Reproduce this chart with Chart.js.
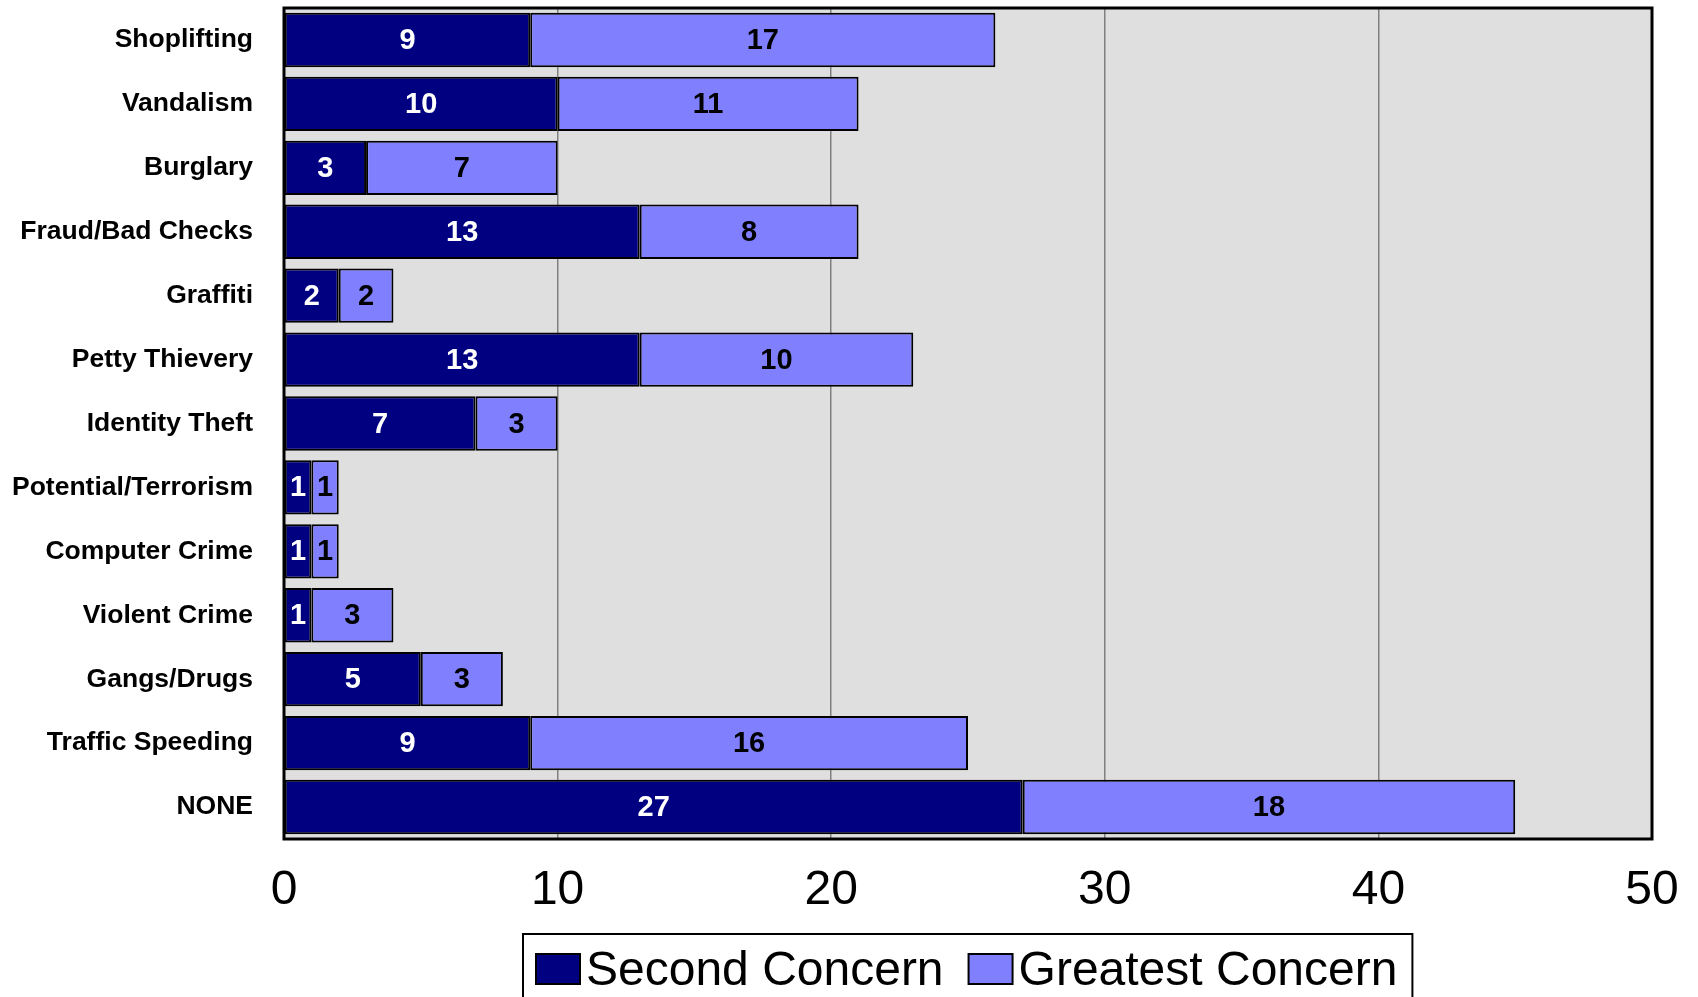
<!DOCTYPE html>
<html>
<head>
<meta charset="utf-8">
<title>Crime concerns</title>
<script src="https://cdn.jsdelivr.net/npm/chart.js@4.4.1/dist/chart.umd.min.js"></script>
<style>
  html, body { margin: 0; padding: 0; background: #ffffff; }
  #wrap { width: 1698px; height: 997px; position: relative; }
</style>
</head>
<body>
<div id="wrap"><canvas id="chartConcern"></canvas></div>
<script>
// categories, top to bottom
const categories = [
    'Shoplifting', 'Vandalism', 'Burglary', 'Fraud/Bad Checks', 'Graffiti',
    'Petty Thievery', 'Identity Theft', 'Potential/Terrorism', 'Computer Crime',
    'Violent Crime', 'Gangs/Drugs', 'Traffic Speeding', 'NONE'
];
const secondConcern   = [9, 10, 3, 13, 2, 13, 7, 1, 1, 1, 5, 9, 27];
const greatestConcern = [17, 11, 7, 8, 2, 10, 3, 1, 1, 3, 3, 16, 18];
const xTicks = [0, 10, 20, 30, 40, 50];

const FONT = '"Liberation Sans", Arial, sans-serif';

// grey plot background + black frame
const plotFrame = {
    id: 'plotFrame',
    beforeDraw(chart) {
        const { ctx, chartArea: a } = chart;
        ctx.save();
        ctx.fillStyle = '#dfdfdf';
        ctx.fillRect(a.left, a.top, a.right - a.left, a.bottom - a.top);
        ctx.restore();
    },
    afterDraw(chart) {
        const { ctx, chartArea: a } = chart;
        ctx.save();
        ctx.strokeStyle = '#000';
        ctx.lineWidth = 3;
        ctx.strokeRect(a.left, a.top, a.right - a.left, a.bottom - a.top);
        ctx.restore();
    }
};

// legend drawn by hand: boxed, tight swatch/text spacing
const boxedLegend = {
    id: 'boxedLegend',
    afterDraw(chart) {
        const { ctx, chartArea: a } = chart;
        const sw = 44, sh = 30, gapText = 6, gapItem = 25, padL = 13, padR = 15;
        ctx.save();
        ctx.font = '48px ' + FONT;
        const items = chart.data.datasets.map(ds => ({
            text: ds.label, color: ds.backgroundColor, w: ctx.measureText(ds.label).width
        }));
        let total = padL + padR;
        items.forEach((it, i) => { total += sw + gapText + it.w + (i ? gapItem : 0); });
        const left = Math.round((a.left + a.right) / 2 - total / 2);
        const top = a.bottom + 95;
        ctx.strokeStyle = '#000';
        ctx.lineWidth = 2;
        ctx.strokeRect(left, top, total, chart.height - top + 10);
        let x = left + padL;
        items.forEach((it, i) => {
            if (i) x += gapItem;
            ctx.fillStyle = it.color;
            ctx.fillRect(x, top + 20, sw, sh);
            ctx.strokeRect(x, top + 20, sw, sh);
            x += sw + gapText;
            ctx.fillStyle = '#000';
            ctx.textBaseline = 'alphabetic';
            ctx.fillText(it.text, x, top + 51);
            x += it.w;
        });
        ctx.restore();
    }
};

// value labels centred in each segment
const segmentLabels = {
    id: 'segmentLabels',
    afterDatasetsDraw(chart) {
        const { ctx } = chart;
        ctx.save();
        ctx.font = 'bold 29px ' + FONT;
        ctx.textAlign = 'center';
        ctx.textBaseline = 'middle';
        chart.data.datasets.forEach((ds, i) => {
            const meta = chart.getDatasetMeta(i);
            meta.data.forEach((bar, j) => {
                const v = ds.data[j];
                if (!v) return;
                const x = (bar.x + bar.base) / 2;
                ctx.fillStyle = ds.labelColor;
                ctx.fillText(String(v), x, bar.y + 1);
            });
        });
        ctx.restore();
    }
};

new Chart(document.getElementById('chartConcern'), {
    type: 'bar',
    data: {
        labels: categories,
        datasets: [
            {
                label: 'Second Concern',
                data: secondConcern,
                backgroundColor: '#000080',
                borderColor: '#000000',
                borderWidth: 2,
                borderSkipped: false,
                labelColor: '#ffffff'
            },
            {
                label: 'Greatest Concern',
                data: greatestConcern,
                backgroundColor: '#8080ff',
                borderColor: '#000000',
                borderWidth: 2,
                borderSkipped: false,
                labelColor: '#000000'
            }
        ]
    },
    options: {
        indexAxis: 'y',
        responsive: true,
        maintainAspectRatio: false,
        animation: false,
        layout: { padding: { left: 0, right: 46, top: 8, bottom: 76 } },
        datasets: { bar: { barPercentage: 0.85, categoryPercentage: 1 } },
        plugins: {
            tooltip: { enabled: false },
            legend: { display: false }
        },
        scales: {
            x: {
                stacked: true,
                min: 0,
                max: 50,
                afterBuildTicks: (s) => { s.ticks = xTicks.map(v => ({ value: v })); },
                afterFit: (s) => { s.height = 82; s.paddingLeft = 0; s.paddingRight = 0; },
                border: { display: false },
                grid: { color: '#808080', lineWidth: 1.5, drawTicks: false },
                ticks: {
                    color: '#000',
                    padding: 23,
                    maxRotation: 0,
                    font: { family: FONT, size: 48 }
                }
            },
            y: {
                stacked: true,
                afterFit: (s) => { s.width = 284; s.paddingTop = 0; s.paddingBottom = 0; },
                border: { display: false },
                grid: { display: false, drawTicks: false },
                ticks: {
                    color: '#000',
                    padding: 31,
                    font: { family: FONT, size: 26.5, weight: 'bold' }
                }
            }
        }
    },
    plugins: [plotFrame, segmentLabels, boxedLegend]
});
</script>
</body>
</html>
